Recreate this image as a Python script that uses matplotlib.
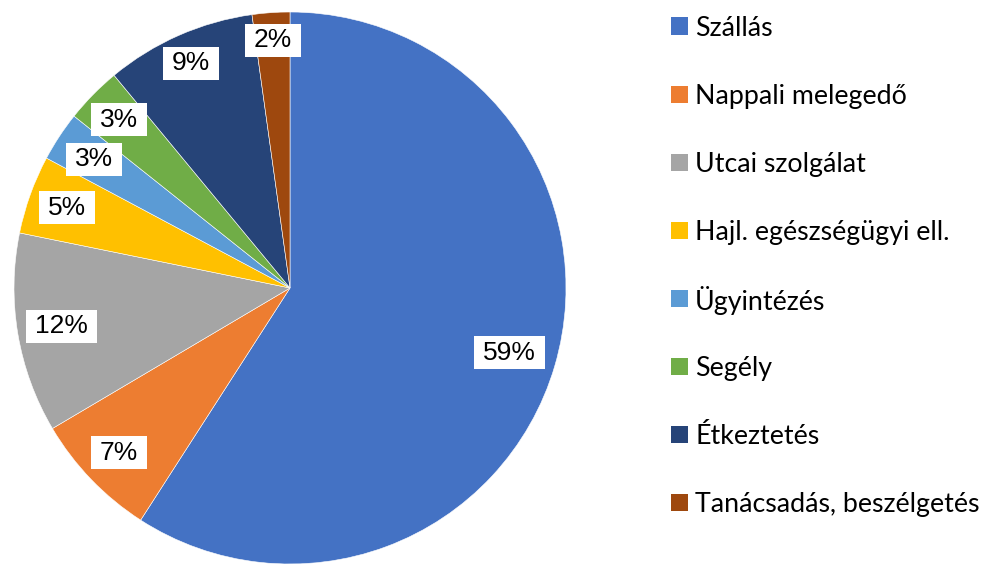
import matplotlib
matplotlib.use("Agg")
import matplotlib.pyplot as plt
from matplotlib.patches import Rectangle
from matplotlib.path import Path
import numpy as np

categories = ["Szállás", "Nappali melegedő", "Utcai szolgálat", "Hajl. egészségügyi ell.",
              "Ügyintézés", "Segély", "Étkeztetés", "Tanácsadás, beszélgetés"]
values = [59.1, 7.4, 11.7, 4.6, 2.9, 3.3, 8.8, 2.2]
colors = ["#4472C4", "#ED7D31", "#A5A5A5", "#FFC000", "#5B9BD5", "#70AD47", "#264478", "#9E480E"]
label_dist = [0.83, 0.86, 0.84, 0.86, 0.85, 0.87, 0.89, 0.90]

W, H = 985, 564
fig = plt.figure(figsize=(W / 100, H / 100), dpi=100)
fig.patch.set_facecolor("white")


def label_box(x0, y0, width, height, mutation_size):
    px = 0.34 * mutation_size
    py = 0.17 * mutation_size
    x1, y1 = x0 - px, y0 - py
    x2, y2 = x0 + width + px, y0 + height + py
    return Path([(x1, y1), (x2, y1), (x2, y2), (x1, y2), (x1, y1)],
                [Path.MOVETO, Path.LINETO, Path.LINETO, Path.LINETO, Path.CLOSEPOLY])


cx, cy, r = 290, 288, 276
ax = fig.add_axes([(cx - r) / W, (H - cy - r) / H, 2 * r / W, 2 * r / H])
wedges, _ = ax.pie(values, colors=colors, startangle=90, counterclock=False, radius=1,
                   wedgeprops=dict(edgecolor="white", linewidth=0.4))
ax.set_xlim(-1, 1)
ax.set_ylim(-1, 1)
ax.set_aspect("equal")
ax.axis("off")

total = sum(values)
for w, v, d in zip(wedges, values, label_dist):
    mid = np.deg2rad((w.theta1 + w.theta2) / 2)
    ax.text(d * np.cos(mid), d * np.sin(mid), f"{round(v / total * 100)}%",
            ha="center", va="center", fontsize=19, family="Liberation Sans", color="black",
            bbox=dict(boxstyle=label_box, facecolor="white", edgecolor="none"))

# legend
x0 = 671
size = 17
y_first, step = 26, 68
for i, (c, col) in enumerate(zip(categories, colors)):
    yc = y_first + i * step
    fig.patches.append(Rectangle(((x0) / W, (H - yc - size / 2) / H), size / W, size / H,
                                 transform=fig.transFigure, facecolor=col, edgecolor="none"))
    fig.text((x0 + 24) / W, (H - yc) / H, c, ha="left", va="center_baseline",
             fontsize=19.3, family="Lato", color="black")

fig.savefig("out.png", dpi=100)
